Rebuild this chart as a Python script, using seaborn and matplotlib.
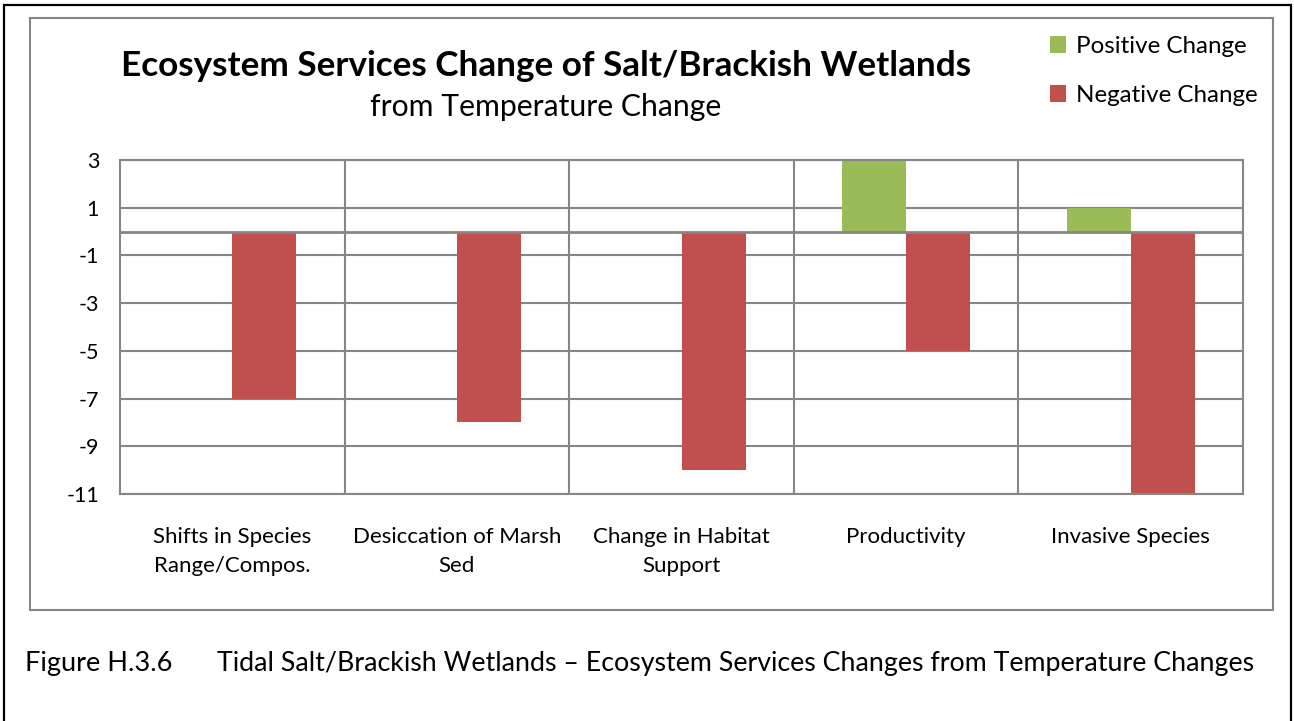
import pandas as pd
import seaborn as sns
import matplotlib.pyplot as plt
from matplotlib.patches import Rectangle

# Data
categories = ['Shifts in Species\nRange/Compos.', 'Desiccation of Marsh\nSed',
              'Change in Habitat\nSupport', 'Productivity', 'Invasive Species']
positive_change = [0, 0, 0, 3, 1]
negative_change = [-7, -8, -10, -5, -11]
series_names = ['Positive Change', 'Negative Change']
y_ticks = [3, 1, -1, -3, -5, -7, -9, -11]

df = pd.DataFrame({
    'category': categories * 2,
    'series': [series_names[0]] * len(categories) + [series_names[1]] * len(categories),
    'value': positive_change + negative_change,
})

sns.set_style('white')
plt.rcParams['font.family'] = ['Lato', 'DejaVu Sans']
plt.rcParams['axes.unicode_minus'] = False
plt.rcParams['text.color'] = 'black'
plt.rcParams['xtick.color'] = 'black'
plt.rcParams['ytick.color'] = 'black'

grid_grey = '#868686'
fig = plt.figure(figsize=(12.94, 7.21), dpi=100)
W, H = 1294, 721

# outer frames
fig.patches.append(Rectangle((4 / W, -0.05), 1287 / W, 1 - 5 / H + 0.05, transform=fig.transFigure,
                             fill=False, edgecolor='black', linewidth=1.6))
fig.patches.append(Rectangle((30 / W, 1 - 610 / H), 1243 / W, 592 / H, transform=fig.transFigure,
                             fill=False, edgecolor=grid_grey, linewidth=1.5))

ax = fig.add_axes([120 / W, 1 - 494 / H, 1123 / W, 334 / H])
sns.barplot(data=df, x='category', y='value', hue='series', order=categories,
            hue_order=series_names, palette=['#9BBB59', '#C0504D'], width=0.57,
            saturation=1, edgecolor='none', ax=ax)

ax.set_ylim(-11, 3)
ax.set_xlim(-0.5, len(categories) - 0.5)
ax.set_yticks(y_ticks)
ax.set_xticks(range(len(categories)))
ax.set_xticks([i + 0.5 for i in range(len(categories) - 1)], minor=True)
ax.set_xticklabels(categories, fontsize=16, linespacing=1.55)
ax.tick_params(axis='x', which='both', length=0, pad=24)
ax.tick_params(axis='y', labelsize=15.5, length=7, width=1.5, color=grid_grey, pad=8)
ax.grid(axis='y', color=grid_grey, linewidth=1.5)
ax.grid(axis='x', which='minor', color=grid_grey, linewidth=1.5)
ax.grid(axis='x', which='major', visible=False)
ax.set_axisbelow(True)
ax.axhline(0, color=grid_grey, linewidth=2, zorder=3)
for s in ax.spines.values():
    s.set_color(grid_grey)
    s.set_linewidth(1.5)
ax.set_xlabel('')
ax.set_ylabel('')

handles, labels = ax.get_legend_handles_labels()
ax.get_legend().remove()
fig.legend(handles, labels, loc='upper left', bbox_to_anchor=(1050 / W, 1 - 36 / H),
           frameon=False, fontsize=17.4, handlelength=0.68, handleheight=0.68,
           labelspacing=1.15, handletextpad=0.4, borderpad=0, borderaxespad=0)

fig.text(546 / W, 1 - 66 / H, 'Ecosystem Services Change of Salt/Brackish Wetlands',
         ha='center', va='center', fontsize=25.3, fontweight='bold')
fig.text(546 / W, 1 - 107 / H, 'from Temperature Change', ha='center', va='center', fontsize=21.7)

fig.text(25 / W, 1 - 663 / H, 'Figure H.3.6', ha='left', va='center', fontsize=19.5)
fig.text(217 / W, 1 - 663 / H,
         'Tidal Salt/Brackish Wetlands \u2013 Ecosystem Services Changes from Temperature Changes',
         ha='left', va='center', fontsize=19.3)

fig.savefig('out.png', dpi=100)
